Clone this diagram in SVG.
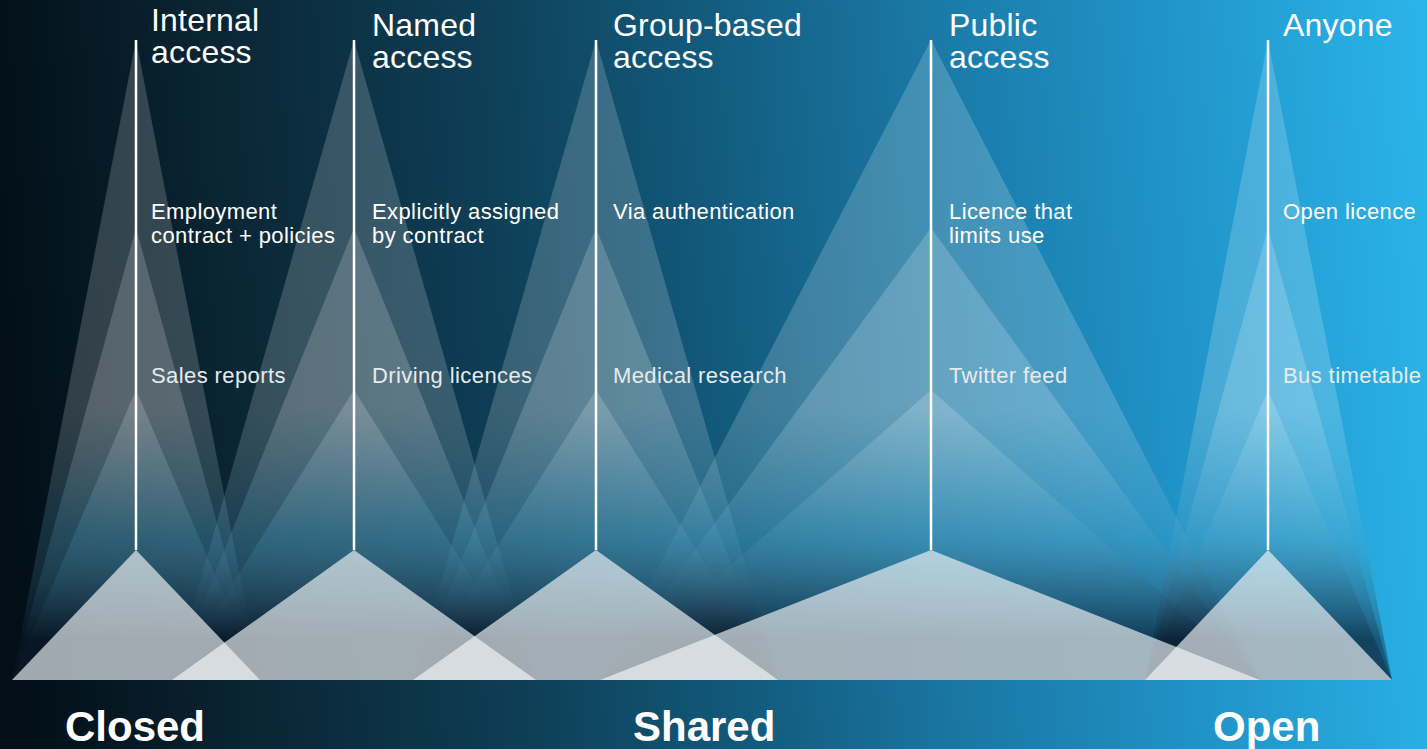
<svg xmlns="http://www.w3.org/2000/svg" width="1427" height="749" viewBox="0 0 1427 749">
<defs>
<linearGradient id="bg" gradientUnits="userSpaceOnUse" x1="0" y1="300" x2="1427" y2="200">
<stop offset="0" stop-color="#020f17"/>
<stop offset="0.15" stop-color="#0a2432"/>
<stop offset="0.35" stop-color="#0e3f57"/>
<stop offset="0.5" stop-color="#125a7c"/>
<stop offset="0.65" stop-color="#1a77a3"/>
<stop offset="0.8" stop-color="#1f90c4"/>
<stop offset="1" stop-color="#2ab3e8"/>
</linearGradient>
<linearGradient id="fan" gradientUnits="userSpaceOnUse" x1="0" y1="0" x2="0" y2="680">
<stop offset="0" stop-color="#ffffff" stop-opacity="0.18"/>
<stop offset="0.6" stop-color="#ffffff" stop-opacity="0.18"/>
<stop offset="0.79" stop-color="#5aa8c8" stop-opacity="0.2"/>
<stop offset="0.94" stop-color="#0a1a2c" stop-opacity="0.34"/>
<stop offset="1" stop-color="#0a1a2c" stop-opacity="0.34"/>
</linearGradient>
</defs>
<style>
.fan{fill:url(#fan)}
.base{fill:#f2f6f8;fill-opacity:0.66}
.stem{stroke:#ffffff;stroke-width:2.5;fill:none}
.h{font-family:"Liberation Sans",Arial,sans-serif;font-size:32px;fill:#ffffff;letter-spacing:0.2px}
.m{font-family:"Liberation Sans",Arial,sans-serif;font-size:22px;fill:#ffffff;letter-spacing:0.4px}
.s{font-family:"Liberation Sans",Arial,sans-serif;font-size:22px;fill:#e6ebee;letter-spacing:0.4px}
.b{font-family:"Liberation Sans",Arial,sans-serif;font-size:42px;font-weight:bold;fill:#ffffff}
</style>
<rect x="0" y="0" width="1427" height="749" fill="url(#bg)"/>
<g id="connectors">
<polygon class="fan" points="136,40 12,680 260,680"/>
<polygon class="fan" points="136,228 12,680 260,680"/>
<polygon class="fan" points="136,390 12,680 260,680"/>
<polygon class="fan" points="354,40 172,680 536,680"/>
<polygon class="fan" points="354,228 172,680 536,680"/>
<polygon class="fan" points="354,390 172,680 536,680"/>
<polygon class="fan" points="596,40 413,680 778,680"/>
<polygon class="fan" points="596,228 413,680 778,680"/>
<polygon class="fan" points="596,390 413,680 778,680"/>
<polygon class="fan" points="931,40 600,680 1260,680"/>
<polygon class="fan" points="931,228 600,680 1260,680"/>
<polygon class="fan" points="931,390 600,680 1260,680"/>
<polygon class="fan" points="1268,40 1145,680 1392,680"/>
<polygon class="fan" points="1268,228 1145,680 1392,680"/>
<polygon class="fan" points="1268,390 1145,680 1392,680"/>
</g>
<g id="internal">
<polygon class="base" points="136,550 12,680 260,680"/>
<line class="stem" x1="136" y1="40" x2="136" y2="550"/>
<text class="h" x="151" y="31">Internal</text>
<text class="h" x="151" y="63">access</text>
<text class="m" x="151" y="219">Employment</text>
<text class="m" x="151" y="243">contract + policies</text>
<text class="s" x="151" y="383">Sales reports</text>
</g>
<g id="named">
<polygon class="base" points="354,550 172,680 536,680"/>
<line class="stem" x1="354" y1="40" x2="354" y2="550"/>
<text class="h" x="372" y="36">Named</text>
<text class="h" x="372" y="68">access</text>
<text class="m" x="372" y="219">Explicitly assigned</text>
<text class="m" x="372" y="243">by contract</text>
<text class="s" x="372" y="383">Driving licences</text>
</g>
<g id="group-based">
<polygon class="base" points="596,550 413,680 778,680"/>
<line class="stem" x1="596" y1="40" x2="596" y2="550"/>
<text class="h" x="613" y="36">Group-based</text>
<text class="h" x="613" y="68">access</text>
<text class="m" x="613" y="219">Via authentication</text>
<text class="s" x="613" y="383">Medical research</text>
</g>
<g id="public">
<polygon class="base" points="931,550 600,680 1260,680"/>
<line class="stem" x1="931" y1="40" x2="931" y2="550"/>
<text class="h" x="949" y="36">Public</text>
<text class="h" x="949" y="68">access</text>
<text class="m" x="949" y="219">Licence that</text>
<text class="m" x="949" y="243">limits use</text>
<text class="s" x="949" y="383">Twitter feed</text>
</g>
<g id="anyone">
<polygon class="base" points="1268,550 1145,680 1392,680"/>
<line class="stem" x1="1268" y1="40" x2="1268" y2="550"/>
<text class="h" x="1283" y="36">Anyone</text>
<text class="m" x="1283" y="219">Open licence</text>
<text class="s" x="1283" y="383">Bus timetable</text>
</g>
<g id="scale">
<text class="b" x="65" y="741">Closed</text>
<text class="b" x="633" y="741">Shared</text>
<text class="b" x="1213" y="741">Open</text>
</g>
</svg>
